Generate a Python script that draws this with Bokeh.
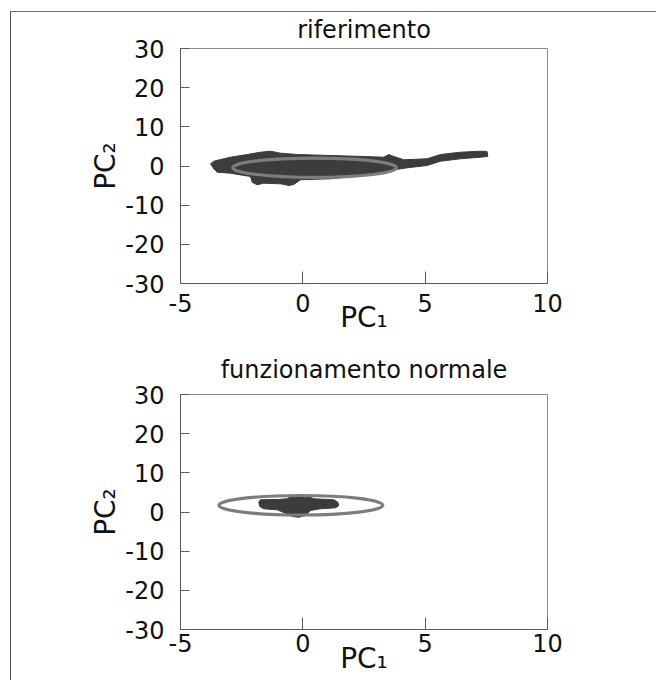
from bokeh.plotting import figure
from bokeh.models import FixedTicker
from bokeh.layouts import column
from bokeh.embed import file_html
from bokeh.resources import INLINE

FONT = "DejaVu Sans"

# ---- data -------------------------------------------------------------
x_ticks = [-5, 0, 5, 10]
x_tick_labels = ["-5", "0", "5", "10"]
y_ticks = [-30, -20, -10, 0, 10, 20, 30]
y_tick_labels = ["-30", "-20", "-10", "0", "10", "20", "30"]

titles = ["riferimento", "funzionamento normale"]
x_label = "PC\u2081"
y_label = "PC\u2082"

# outline of the dense score cloud, reference data
ref_pc1 = [-3.77, -3.64, -2.96, -2.27, -1.73, -1.32, -0.91, -0.23, 1.13, 2.48,
           3.31, 3.51, 3.72, 4.13, 5.08, 5.63, 6.44, 7.26, 7.53, 7.56,
           7.26, 6.44, 5.63, 5.08, 4.27, 3.72, 3.04, 2.49, 1.13, -0.10,
           -0.37, -0.57, -0.91, -1.60, -1.87, -2.07, -2.14, -2.96, -3.50, -3.64]
ref_pc2 = [0.56, 1.23, 2.25, 2.94, 3.52, 3.78, 3.27, 2.94, 2.68, 2.43,
           2.25, 2.94, 2.43, 1.58, 1.84, 2.94, 3.52, 3.78, 3.70, 2.43,
           2.25, 1.84, 1.23, 0.13, -0.46, -0.97, -1.84, -2.43, -3.27, -3.52,
           -4.72, -4.98, -4.54, -4.39, -4.80, -4.14, -2.68, -1.84, -1.58, -0.72]

# outline of the score cloud, normal operation
norm_pc1 = [-1.80, -1.73, -1.05, -0.64, -0.50, -0.30, -0.10, 0.11, 0.24, 0.45,
            1.27, 1.43, 1.47, 1.34, 0.72, 0.31, 0.11, -0.16, -0.43, -0.71,
            -1.05, -1.60, -1.76]
norm_pc2 = [2.50, 3.12, 3.19, 3.37, 3.96, 3.78, 3.96, 3.63, 3.96, 3.37,
            3.12, 2.50, 1.66, 1.07, 0.82, 0.38, -0.89, -1.33, -1.15, -0.31,
            0.56, 0.82, 1.40]

# confidence ellipses: centre, full width (PC1), full height (PC2)
ell_ref = dict(x=[0.48], y=[-0.43], w=[6.69], h=[4.93])
ell_norm = dict(x=[-0.08], y=[1.72], w=[6.70], h=[4.98])

BLOB = "#3c3c3c"
ELL = "#7d7d7d"
TXT = "#111111"


def make_panel(title, bx, by, ell, height, top, bottom, title_stand,
               xstand, xlab_stand):
    p = figure(width=645, height=height, x_range=(-5, 10), y_range=(-30, 30),
               output_backend="svg", toolbar_location=None,
               min_border_left=169, min_border_right=109,
               min_border_top=top, min_border_bottom=bottom)
    p.grid.visible = False
    p.background_fill_color = "white"
    p.border_fill_alpha = 0
    p.outline_line_color = "#8c8c8c"
    p.outline_line_width = 1

    p.title.text = title
    p.title.align = "center"
    p.title.text_font = FONT
    p.title.text_font_size = "24px"
    p.title.text_font_style = "normal"
    p.title.text_color = TXT
    p.title.standoff = title_stand

    p.xaxis.ticker = FixedTicker(ticks=x_ticks)
    p.xaxis.major_label_overrides = {t: l for t, l in zip(x_ticks, x_tick_labels)}
    p.yaxis.ticker = FixedTicker(ticks=y_ticks)
    p.yaxis.major_label_overrides = {t: l for t, l in zip(y_ticks, y_tick_labels)}
    p.xaxis.axis_label = x_label
    p.yaxis.axis_label = y_label
    for ax in (p.xaxis[0], p.yaxis[0]):
        ax.axis_line_color = "#5a5a5a"
        ax.major_tick_line_color = "#5a5a5a"
        ax.minor_tick_line_color = None
        ax.major_tick_out = 0
        ax.major_label_text_font = FONT
        ax.major_label_text_font_size = "24px"
        ax.major_label_text_color = TXT
        ax.axis_label_text_font = FONT
        ax.axis_label_text_font_size = "28px"
        ax.axis_label_text_font_style = "normal"
        ax.axis_label_text_color = TXT
    p.yaxis.major_tick_in = 9
    p.xaxis.major_tick_in = 12
    p.yaxis.major_label_standoff = 16
    p.xaxis.major_label_standoff = xstand
    p.yaxis.axis_label_standoff = 0
    p.xaxis.axis_label_standoff = xlab_stand

    p.patch(bx, by, fill_color=BLOB, line_color=BLOB, line_width=1)
    p.ellipse(x=ell["x"], y=ell["y"], width=ell["w"], height=ell["h"],
              fill_color=None, line_color=ELL, line_width=3.2)
    return p


p1 = make_panel(titles[0], ref_pc1, ref_pc2, ell_ref, 334, 40, 59, 10, 10, -14)
p1.margin = (-4, 0, 0, 0)
p2 = make_panel(titles[1], norm_pc1, norm_pc2, ell_norm, 338, 52, 51, 22, 4, -13)

layout = column(p1, p2, margin=(11, 0, 0, 10),
                styles={"border-top": "1px solid #6f6f6f",
                        "border-left": "1px solid #4f4f4f"})

open("out.html", "w").write(file_html(layout, INLINE))
